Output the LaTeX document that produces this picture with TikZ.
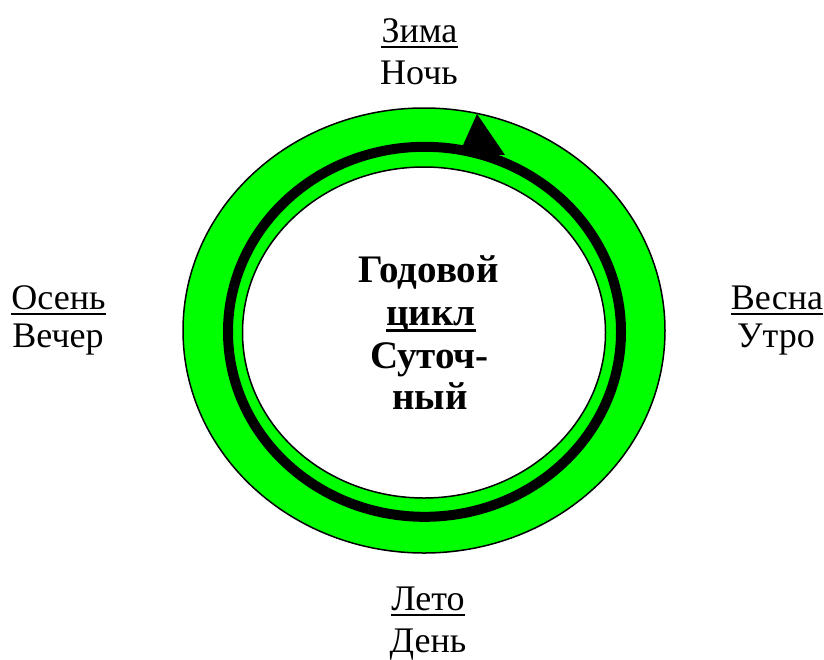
\documentclass[tikz,border=0pt]{standalone}
\usepackage{fontspec}
\setmainfont{Liberation Serif}
\definecolor{ringgreen}{RGB}{0,255,0}
\tikzset{
  lbl/.style={anchor=base, inner sep=0pt, font=\fontsize{36}{43}\selectfont},
  blbl/.style={anchor=base, inner sep=0pt, font=\fontsize{39}{43}\selectfont\bfseries},
  uline/.style={line width=2pt},
  buline/.style={line width=3pt},
  edge/.style={draw=black, line width=1.5pt}
}
\begin{document}
\begin{tikzpicture}[x=1pt,y=-1pt]
\useasboundingbox (0,0) rectangle (824,659);
\fill[white] (0,0) rectangle (824,659);
% green band
\draw[edge, fill=ringgreen] (424,330.5) ellipse [x radius=241pt, y radius=222.5pt];
% black cycle ring
\draw[line width=10pt] (424.5,331.8) ellipse [x radius=196.5pt, y radius=185pt];
% inner white ellipse
\draw[edge, fill=white] (424,332.5) ellipse [x radius=181.5pt, y radius=165.5pt];
% arrow head
\fill[black] (477,114) -- (459,154) -- (505,155) -- cycle;
% labels
\node[lbl] (zima) at (419.5,42) {Зима};
\node[lbl] (noch) at (419,84) {Ночь};
\draw[uline] ([yshift=-5pt]zima.base west) -- ([yshift=-5pt]zima.base east);
\node[lbl] (osen) at (58.5,309) {Осень};
\node[lbl] (vecher) at (58,347) {Вечер};
\draw[uline] ([yshift=-5pt]osen.base west) -- ([yshift=-5pt]osen.base east);
\node[lbl] (vesna) at (777,309) {Весна};
\node[lbl] (utro) at (776,347) {Утро};
\draw[uline] ([yshift=-5pt]vesna.base west) -- ([yshift=-5pt]vesna.base east);
\node[lbl] (leto) at (428,610) {Лето};
\node[lbl] (den) at (428,652) {День};
\draw[uline] ([yshift=-5pt]leto.base west) -- ([yshift=-5pt]leto.base east);
% centre
\node[blbl] (godovoy) at (428.5,282) {Годовой};
\node[blbl] (tsikl) at (431,325) {цикл};
\draw[buline] ([yshift=-5pt]tsikl.base west) -- ([yshift=-5pt]tsikl.base east);
\node[blbl] (sutoch) at (429.5,368) {Суточ-};
\node[blbl] (nyy) at (430,409) {ный};
\end{tikzpicture}
\end{document}
